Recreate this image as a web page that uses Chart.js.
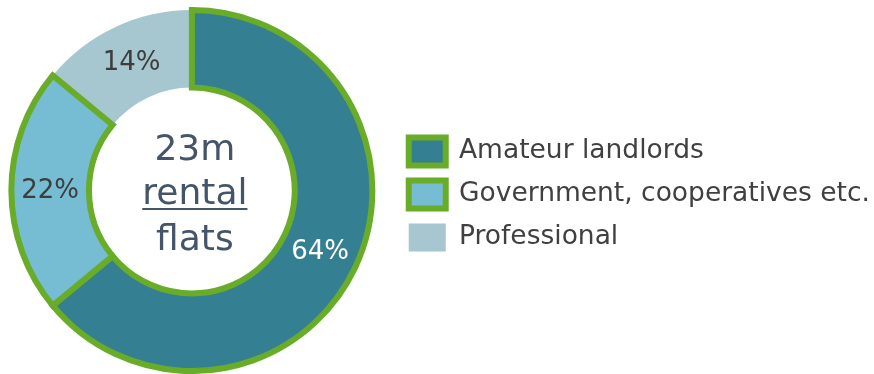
<!DOCTYPE html>
<html>
<head>
<meta charset="utf-8">
<script src="https://cdn.jsdelivr.net/npm/chart.js@4/dist/chart.umd.min.js"></script>
<style>
  html, body { margin: 0; padding: 0; background: #fff; }
  #wrap { width: 874px; height: 374px; position: relative; overflow: hidden; }
  /* canvas runs a little past the left edge so the ring sits close to it */
  #flatsChart { position: absolute; left: -10px; top: 0; }
</style>
</head>
<body>
<div id="wrap"><canvas id="flatsChart" width="890" height="374"></canvas></div>
<script>
// ring is drawn starting with the unbordered slice so the green edges sit on top
const owners = ["Professional", "Amateur landlords", "Government, cooperatives etc."];
const shares = [14, 64, 22];
const legendOrder = ["Amateur landlords", "Government, cooperatives etc.", "Professional"];
const centerLines = ["23m", "rental", "flats"];

const fills = ["#a6c6d0", "#357f93", "#76bdd3"];
const edgeWidths = [0, 6, 6];
const green = "#68ac28";
const labelColors = ["#3d3d3d", "#ffffff", "#3d3d3d"];

const total = shares.reduce((a, b) => a + b, 0);
Chart.defaults.font.family = "'DejaVu Sans', Verdana, sans-serif";

// percentage labels on each slice plus the caption in the hole
const ringText = {
  id: "ringText",
  afterDatasetsDraw(chart) {
    const ctx = chart.ctx;
    const arcs = chart.getDatasetMeta(0).data;
    ctx.save();
    ctx.font = "26px 'DejaVu Sans'";
    ctx.textAlign = "center";
    ctx.textBaseline = "middle";
    arcs.forEach((arc, i) => {
      const p = arc.tooltipPosition();
      ctx.fillStyle = labelColors[i];
      ctx.fillText(Math.round(shares[i] / total * 100) + "%", p.x, p.y + 1);
    });

    const cx = arcs[0].x + 3, cy = arcs[0].y;
    ctx.fillStyle = "#44546a";
    ctx.strokeStyle = "#44546a";
    ctx.font = "36px 'DejaVu Sans'";
    ctx.textBaseline = "alphabetic";
    ctx.fillText(centerLines[0], cx, cy - 31);
    ctx.fillText(centerLines[1], cx, cy + 13);
    ctx.fillText(centerLines[2], cx, cy + 59);
    // underline under the middle word
    const w = ctx.measureText(centerLines[1]).width;
    ctx.lineWidth = 2;
    ctx.beginPath();
    ctx.moveTo(cx - w / 2, cy + 18.5);
    ctx.lineTo(cx + w / 2, cy + 18.5);
    ctx.stroke();
    ctx.restore();
  }
};

new Chart(document.getElementById("flatsChart"), {
  type: "doughnut",
  data: {
    labels: owners,
    datasets: [{
      data: shares,
      backgroundColor: fills,
      borderColor: green,
      borderWidth: edgeWidths,
      borderJoinStyle: "miter"
    }]
  },
  options: {
    responsive: false,
    animation: false,
    events: [],
    cutout: "57%",
    rotation: -360 * shares[0] / total,
    layout: { padding: { top: 7, bottom: 0, left: 0, right: 0 } },
    plugins: {
      tooltip: { enabled: false },
      legend: {
        position: "right",
        align: "center",
        maxWidth: 600,
        title: { display: true, text: "", font: { size: 1 }, padding: { top: 7, bottom: 0 } },
        labels: {
          boxWidth: 37,
          boxHeight: 28,
          padding: 15,
          color: "#404040",
          font: { size: 26.5 },
          sort: (a, b) => legendOrder.indexOf(a.text) - legendOrder.indexOf(b.text)
        }
      }
    }
  },
  plugins: [ringText]
});
</script>
</body>
</html>
